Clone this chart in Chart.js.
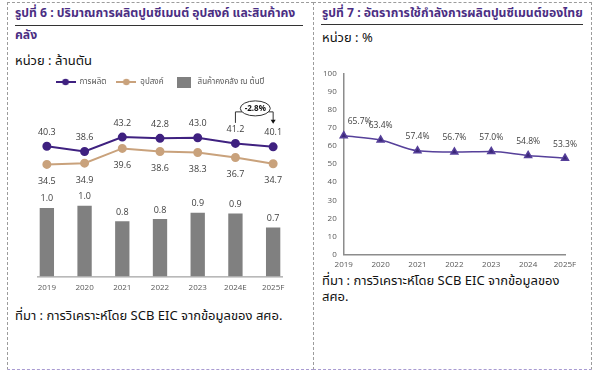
<!DOCTYPE html>
<html>
<head>
<meta charset="utf-8">
<script src="https://cdn.jsdelivr.net/npm/chart.js@4.4.1/dist/chart.umd.min.js"></script>
<style>
  html, body { margin: 0; padding: 0; background: #fff; }
  body { width: 600px; height: 371px; position: relative; overflow: hidden;
         font-family: Tahoma, "Noto Sans Thai", "Loma", "Garuda", "DejaVu Sans", sans-serif; }
  .box { position: absolute; border: 1px dashed #9c9c9c; box-sizing: border-box; }
  .t { position: absolute; white-space: nowrap; line-height: 1; }
  .title { color: #4b2e83; font-weight: bold; font-size: 12.2px; }
  .rule { position: absolute; height: 0; border-top: 1.5px solid #333; }
  .note { font-size: 13px; color: #111; }
  canvas { position: absolute; }
</style>
</head>
<body>
<div class="box" style="left:7px; top:2px; width:307px; height:368px; border-bottom-color:#a99bd2;"></div>
<div class="box" style="left:313px; top:2px; width:279px; height:368px; border-bottom-color:#a99bd2;"></div>

<div class="t title" style="left:15px; top:7px;">รูปที่ 6 : ปริมาณการผลิตปูนซีเมนต์ อุปสงค์ และสินค้าคง</div>
<div class="rule" style="left:15px; top:25px; width:288px;"></div>
<div class="t title" style="left:15px; top:29px;">คลัง</div>
<div class="t note" style="left:15px; top:55px;">หน่วย : ล้านตัน</div>
<div class="t note" style="left:15px; top:310px;">ที่มา : การวิเคราะห์โดย SCB EIC จากข้อมูลของ สศอ.</div>

<div class="t title" style="left:322px; top:7px;">รูปที่ 7 : อัตราการใช้กำลังการผลิตปูนซีเมนต์ของไทย</div>
<div class="rule" style="left:321px; top:24px; width:262px;"></div>
<div class="t note" style="left:322px; top:32px;">หน่วย : %</div>
<div class="t note" style="left:322px; top:275px;">ที่มา : การวิเคราะห์โดย SCB EIC จากข้อมูลของ</div>
<div class="t note" style="left:322px; top:291px;">สศอ.</div>

<canvas id="chart6" width="280" height="240" style="left:20px; top:68px;"></canvas>
<canvas id="chart7" width="290" height="219" style="left:300px; top:62px;"></canvas>

<script>
// figure 6 data
const years6 = ['2019', '2020', '2021', '2022', '2023', '2024E', '2025F'];
const production = [40.3, 38.6, 43.2, 42.8, 43.0, 41.2, 40.1];
const demand = [34.5, 34.9, 39.6, 38.6, 38.3, 36.7, 34.7];
const inventory = [0.98, 1.01, 0.79, 0.82, 0.91, 0.90, 0.70];
const growthLabel = '-2.8%';

// figure 7 data
const years7 = ['2019', '2020', '2021', '2022', '2023', '2024', '2025F'];
const utilization = [65.7, 63.4, 57.4, 56.7, 57.0, 54.8, 53.3];

const numFont = '"Open Sans", "Noto Sans", sans-serif';
const thaiFont = 'Tahoma, "Noto Sans Thai", "Loma", "Garuda", "DejaVu Sans", sans-serif';

function lineIcon(color) {
  const c = document.createElement('canvas');
  c.width = 20; c.height = 8;
  const g = c.getContext('2d');
  g.strokeStyle = color; g.lineWidth = 2;
  g.beginPath(); g.moveTo(0, 4); g.lineTo(20, 4); g.stroke();
  g.fillStyle = color;
  g.beginPath(); g.arc(10, 4, 3.3, 0, Math.PI * 2); g.fill();
  return c;
}
function rectIcon(color) {
  const c = document.createElement('canvas');
  c.width = 14; c.height = 11;
  const g = c.getContext('2d');
  g.fillStyle = color; g.fillRect(0, 0, 14, 11);
  return c;
}

// value labels drawn above / below each point or bar
const valueLabels = {
  id: 'valueLabels',
  afterDatasetsDraw(chart) {
    const ctx = chart.ctx;
    const area = chart.chartArea;
    chart.data.datasets.forEach(function (ds, i) {
      if (ds.labelOffset === undefined) return;
      const meta = chart.getDatasetMeta(i);
      ctx.save();
      ctx.font = ds.labelFont || ('9px ' + numFont);
      ctx.fillStyle = '#404040';
      ctx.textAlign = 'center';
      ctx.textBaseline = 'middle';
      meta.data.forEach(function (el, j) {
        const txt = ds.data[j].toFixed(1) + (ds.labelSuffix || '');
        const w = ctx.measureText(txt).width;
        const x = Math.max(el.x, area.left + w / 2 + 4);
        ctx.fillText(txt, x, el.y + ds.labelOffset);
      });
      ctx.restore();
    });
  }
};

// change bracket between the last two production points
const growthNote = {
  id: 'growthNote',
  afterDatasetsDraw(chart) {
    const meta = chart.getDatasetMeta(0);
    const a = meta.data[5], b = meta.data[6];
    const ctx = chart.ctx;
    const cx = (a.x + b.x) / 2 + 1;
    const cy = Math.min(a.y, b.y) - 35;
    const by = cy + 3.5;
    ctx.save();
    ctx.strokeStyle = '#333';
    ctx.lineWidth = 1;
    ctx.beginPath();
    ctx.ellipse(cx, cy, 15, 7.5, 0, 0, Math.PI * 2);
    ctx.stroke();
    ctx.beginPath();
    ctx.moveTo(cx - 13.3, by); ctx.lineTo(a.x, by); ctx.lineTo(a.x, a.y - 20.5);
    ctx.moveTo(cx + 13.3, by); ctx.lineTo(b.x, by); ctx.lineTo(b.x, b.y - 26);
    ctx.stroke();
    ctx.fillStyle = '#111';
    ctx.beginPath();
    ctx.moveTo(b.x - 2.5, b.y - 27); ctx.lineTo(b.x + 2.5, b.y - 27); ctx.lineTo(b.x, b.y - 23);
    ctx.closePath(); ctx.fill();
    ctx.font = 'bold 8px ' + numFont;
    ctx.textAlign = 'center';
    ctx.textBaseline = 'middle';
    ctx.fillText(growthLabel, cx, cy);
    ctx.restore();
  }
};

// short baseline under the bars
const baseLine = {
  id: 'baseLine',
  afterDatasetsDraw(chart) {
    const area = chart.chartArea;
    const ctx = chart.ctx;
    ctx.save();
    ctx.strokeStyle = '#8c8c8c';
    ctx.lineWidth = 1;
    ctx.beginPath();
    ctx.moveTo(area.left + 9, area.bottom + 0.5);
    ctx.lineTo(area.right - 9, area.bottom + 0.5);
    ctx.stroke();
    ctx.restore();
  }
};

const icons6 = [lineIcon('#3f2180'), lineIcon('#c9a27c'), rectIcon('#808080')];

new Chart(document.getElementById('chart6'), {
  type: 'bar',
  data: {
    labels: years6,
    datasets: [
      {
        type: 'line', label: 'การผลิต', data: production, yAxisID: 'y1', order: 1,
        borderColor: '#3f2180', backgroundColor: '#3f2180', borderWidth: 2,
        pointRadius: 3.5, pointHoverRadius: 3.5, tension: 0, labelOffset: -14
      },
      {
        type: 'line', label: 'อุปสงค์', data: demand, yAxisID: 'y1', order: 2,
        borderColor: '#c9a27c', backgroundColor: '#c9a27c', borderWidth: 2,
        pointRadius: 3.5, pointHoverRadius: 3.5, tension: 0, labelOffset: 17
      },
      {
        type: 'bar', label: 'สินค้าคงคลัง ณ ต้นปี', data: inventory, yAxisID: 'y', order: 3,
        backgroundColor: '#808080', barPercentage: 0.38, categoryPercentage: 1,
        labelOffset: -9
      }
    ]
  },
  options: {
    responsive: false,
    animation: false,
    layout: { padding: { left: 8, right: 8, top: 0, bottom: 8 } },
    plugins: {
      tooltip: { enabled: false },
      legend: {
        position: 'top',
        labels: {
          usePointStyle: true,
          pointStyleWidth: 20,
          padding: 10,
          color: '#595959',
          font: { size: 8, family: thaiFont },
          generateLabels: function (chart) {
            const items = Chart.defaults.plugins.legend.labels.generateLabels(chart);
            items.forEach(function (it) { it.pointStyle = icons6[it.datasetIndex]; });
            return items;
          }
        }
      }
    },
    scales: {
      x: {
        grid: { display: false, drawTicks: false },
        border: { display: false },
        ticks: { color: '#595959', font: { size: 8, family: numFont }, padding: 7 }
      },
      y: { display: false, min: 0, max: 2.58 },
      y1: { display: false, min: -1.16, max: 56.29 }
    }
  },
  plugins: [valueLabels, growthNote, baseLine]
});

new Chart(document.getElementById('chart7'), {
  type: 'line',
  data: {
    labels: years7,
    datasets: [{
      label: 'อัตราการใช้กำลังการผลิต', data: utilization,
      borderColor: '#56409a', backgroundColor: '#3b2779', borderWidth: 1.5,
      pointStyle: 'triangle', pointRadius: 4, pointHoverRadius: 4,
      cubicInterpolationMode: 'monotone',
      labelOffset: -14, labelSuffix: '%', labelFont: '8.5px ' + numFont
    }]
  },
  options: {
    responsive: false,
    animation: false,
    layout: { padding: { left: 16, right: 25, top: 10, bottom: 5 } },
    plugins: { legend: { display: false }, tooltip: { enabled: false } },
    scales: {
      x: {
        offset: false,
        grid: { display: false, drawTicks: false },
        border: { color: '#8c8c8c', width: 1.5 },
        ticks: { color: '#595959', font: { size: 8, family: numFont }, padding: 6, maxRotation: 0 }
      },
      y: {
        min: 0, max: 100,
        grid: { display: false, drawTicks: false },
        border: { color: '#8c8c8c', width: 1.5 },
        ticks: { stepSize: 10, color: '#595959', font: { size: 8, family: numFont }, padding: 7 }
      }
    }
  },
  plugins: [valueLabels]
});
</script>
</body>
</html>
